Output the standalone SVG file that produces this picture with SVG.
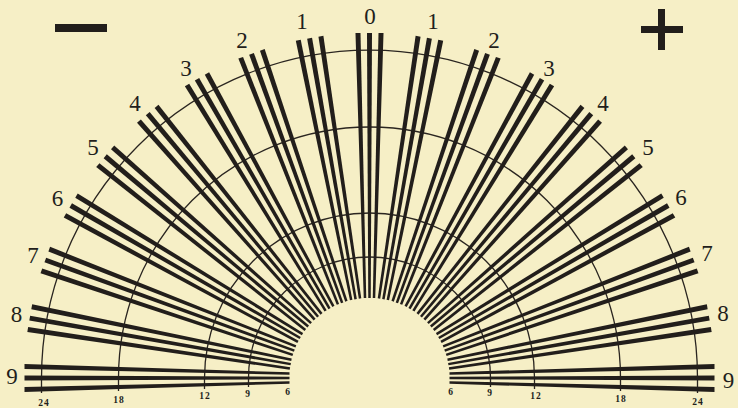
<svg xmlns="http://www.w3.org/2000/svg" xmlns:xlink="http://www.w3.org/1999/xlink" width="738" height="408" viewBox="0 0 738 408">
<style>
.bg{fill:#f6efc6}
.ink{fill:#221e1b}
.ring{fill:none;stroke:#2a2520;stroke-width:1.3}
.num{font-family:"Liberation Serif","DejaVu Serif",serif;font-size:23px;fill:#221e1b;text-anchor:middle}
.tick{font-family:"Liberation Serif","DejaVu Serif",serif;font-size:9.5px;font-weight:bold;fill:#221e1b;text-anchor:middle;letter-spacing:1px}
</style>
<defs>
<g id="fan" class="ink">
<polygon points="355.5,33 360.5,33 366.25,298 363.75,298"/>
<polygon points="367,33 372,33 370.75,298 368.25,298"/>
<polygon points="378.5,33 383.5,33 375.25,298 372.75,298"/>
</g>
</defs>
<rect class="bg" x="0" y="0" width="738" height="408"/>
<g id="rings">
<path class="ring" d="M41.5,393 V378 A328,328 0 0 1 697.5,378 V393"/>
<path class="ring" d="M118.5,391 V378 A251,251 0 0 1 620.5,378 V391"/>
<path class="ring" d="M204.5,389 V378 A165,165 0 0 1 534.5,378 V389"/>
<path class="ring" d="M248.5,387 V378 A121,121 0 0 1 490.5,378 V387"/>
</g>
<g id="ring-labels">
<text class="tick" x="44" y="406">24</text>
<text class="tick" x="119" y="403">18</text>
<text class="tick" x="205" y="399">12</text>
<text class="tick" x="248" y="397">9</text>
<text class="tick" x="288" y="395">6</text>
<text class="tick" x="451" y="395">6</text>
<text class="tick" x="490" y="396">9</text>
<text class="tick" x="536" y="399">12</text>
<text class="tick" x="621" y="402">18</text>
<text class="tick" x="698" y="405">24</text>
</g>
<g id="connectors"></g>
<g id="m-L9"><use xlink:href="#fan" href="#fan" transform="rotate(-90 369.5 378)"/><text class="num" x="12" y="383.5">9</text></g>
<g id="m-L8"><use xlink:href="#fan" href="#fan" transform="rotate(-80 369.5 378)"/><text class="num" x="16.5" y="321.5">8</text></g>
<g id="m-L7"><use xlink:href="#fan" href="#fan" transform="rotate(-70 369.5 378)"/><text class="num" x="33" y="263">7</text></g>
<g id="m-L6"><use xlink:href="#fan" href="#fan" transform="rotate(-60 369.5 378)"/><text class="num" x="57.5" y="206">6</text></g>
<g id="m-L5"><use xlink:href="#fan" href="#fan" transform="rotate(-50 369.5 378)"/><text class="num" x="93" y="155">5</text></g>
<g id="m-L4"><use xlink:href="#fan" href="#fan" transform="rotate(-40 369.5 378)"/><text class="num" x="135" y="111">4</text></g>
<g id="m-L3"><use xlink:href="#fan" href="#fan" transform="rotate(-30 369.5 378)"/><text class="num" x="186" y="76">3</text></g>
<g id="m-L2"><use xlink:href="#fan" href="#fan" transform="rotate(-20 369.5 378)"/><text class="num" x="242" y="48">2</text></g>
<g id="m-L1"><use xlink:href="#fan" href="#fan" transform="rotate(-10 369.5 378)"/><text class="num" x="302" y="29">1</text></g>
<g id="m-0"><use xlink:href="#fan" href="#fan"/><text class="num" x="370" y="23.5">0</text></g>
<g id="m-R1"><use xlink:href="#fan" href="#fan" transform="rotate(10 369.5 378)"/><text class="num" x="433" y="29">1</text></g>
<g id="m-R2"><use xlink:href="#fan" href="#fan" transform="rotate(20 369.5 378)"/><text class="num" x="494" y="48">2</text></g>
<g id="m-R3"><use xlink:href="#fan" href="#fan" transform="rotate(30 369.5 378)"/><text class="num" x="549" y="76">3</text></g>
<g id="m-R4"><use xlink:href="#fan" href="#fan" transform="rotate(40 369.5 378)"/><text class="num" x="603" y="111">4</text></g>
<g id="m-R5"><use xlink:href="#fan" href="#fan" transform="rotate(50 369.5 378)"/><text class="num" x="648" y="155">5</text></g>
<g id="m-R6"><use xlink:href="#fan" href="#fan" transform="rotate(60 369.5 378)"/><text class="num" x="681" y="205">6</text></g>
<g id="m-R7"><use xlink:href="#fan" href="#fan" transform="rotate(70 369.5 378)"/><text class="num" x="707" y="261">7</text></g>
<g id="m-R8"><use xlink:href="#fan" href="#fan" transform="rotate(80 369.5 378)"/><text class="num" x="723" y="321">8</text></g>
<g id="m-R9"><use xlink:href="#fan" href="#fan" transform="rotate(90 369.5 378)"/><text class="num" x="728.5" y="387.5">9</text></g>
<g id="minus"><rect class="ink" x="55" y="24" width="52" height="8"/></g>
<g id="plus" class="ink"><rect x="641" y="26" width="42" height="7"/><rect x="658" y="9" width="7" height="41"/></g>
</svg>
